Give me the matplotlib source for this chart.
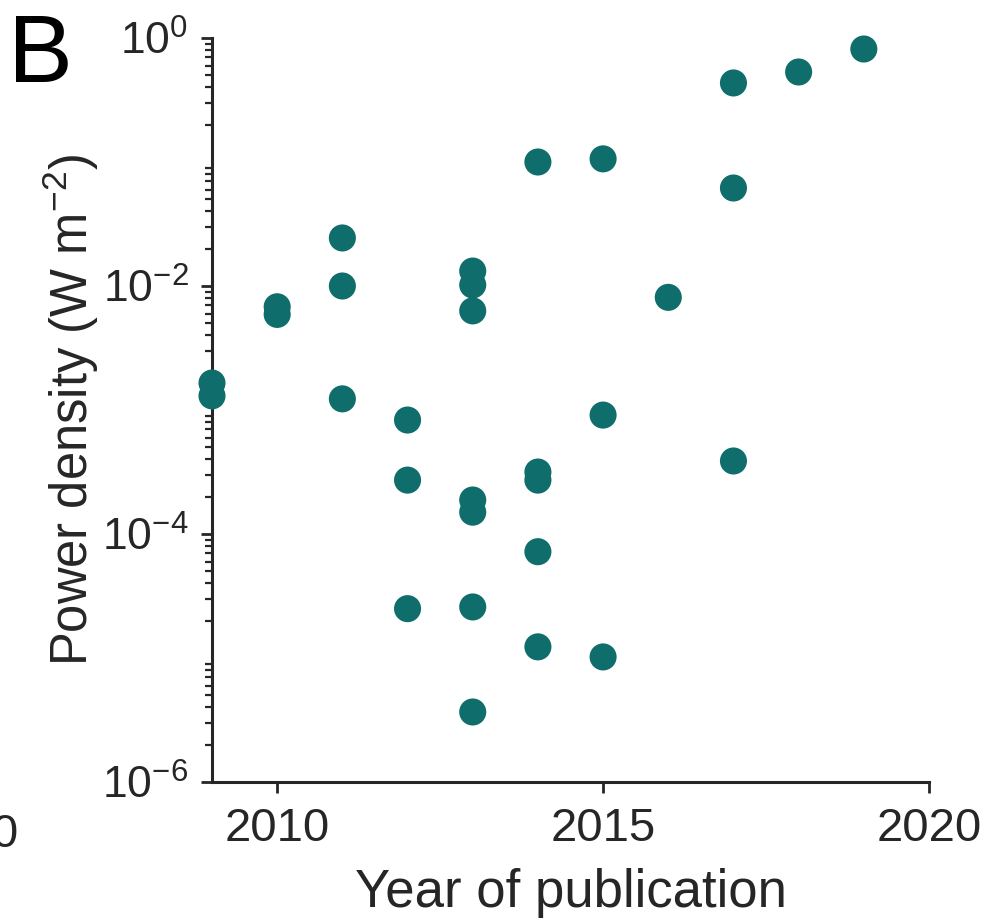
import matplotlib
matplotlib.use('Agg')
import matplotlib.pyplot as plt
from matplotlib.ticker import LogLocator, NullFormatter

plt.rcParams['font.family'] = ['Liberation Sans', 'DejaVu Sans']
plt.rcParams['mathtext.fontset'] = 'custom'
plt.rcParams['mathtext.rm'] = 'Liberation Sans'
plt.rcParams['mathtext.it'] = 'Liberation Sans'

# values (year, power density in W m^-2)
years = [2009, 2009,
         2010, 2010,
         2011, 2011, 2011,
         2012, 2012, 2012,
         2013, 2013, 2013, 2013, 2013, 2013, 2013,
         2014, 2014, 2014, 2014, 2014,
         2015, 2015, 2015,
         2016,
         2017, 2017, 2017,
         2018,
         2019]
power_density = [1.65e-3, 1.30e-3,
                 6.8e-3, 5.9e-3,
                 2.44e-2, 1.0e-2, 1.23e-3,
                 8.3e-4, 2.72e-4, 2.5e-5,
                 1.32e-2, 1.02e-2, 6.3e-3, 1.88e-4, 1.50e-4, 2.58e-5, 3.67e-6,
                 1.0e-1, 3.16e-4, 2.72e-4, 7.2e-5, 1.23e-5,
                 1.06e-1, 9.1e-4, 1.02e-5,
                 8.1e-3,
                 4.34e-1, 6.17e-2, 3.88e-4,
                 5.32e-1,
                 8.15e-1]

x_ticks = [2010, 2015, 2020]
y_ticks = [1e-6, 1e-4, 1e-2, 1e0]
y_tick_labels = [r'$\mathregular{10^{-6}}$', r'$\mathregular{10^{-4}}$',
                 r'$\mathregular{10^{-2}}$', r'$\mathregular{10^{0}}$']

dot_color = '#0f6e6b'
ink = '#262626'

fig = plt.figure(figsize=(9.86, 9.19), dpi=100)
ax = fig.add_axes([212 / 986, 1 - 782 / 919, (929 - 212) / 986, (782 - 38) / 919])

ax.scatter(years, power_density, s=380, color=dot_color, edgecolors='none',
           zorder=3, clip_on=False)

ax.set_yscale('log')
ax.set_xlim(2009, 2020)
ax.set_ylim(1e-6, 1e0)

ax.set_xticks(x_ticks)
ax.set_xticklabels([str(t) for t in x_ticks])
ax.set_yticks(y_ticks)
ax.set_yticklabels(y_tick_labels)
ax.yaxis.set_minor_locator(LogLocator(base=10, subs=range(2, 10), numticks=20))
ax.yaxis.set_minor_formatter(NullFormatter())

for side in ['top', 'right']:
    ax.spines[side].set_visible(False)
for side in ['left', 'bottom']:
    ax.spines[side].set_linewidth(2.2)
    ax.spines[side].set_color(ink)

ax.tick_params(axis='both', which='major', direction='out', length=8, width=2,
               color=ink, labelcolor=ink)
ax.tick_params(axis='x', which='major', labelsize=34, pad=10)
ax.tick_params(axis='y', which='major', labelsize=32, pad=9)
ax.tick_params(axis='y', which='minor', direction='out', length=5, width=1.6,
               color=ink)

# cut-off tick label of the neighbouring panel at the left edge
fig.text(19 / 986, 1 - 847 / 919, '2020', fontsize=34, color=ink,
         ha='right', va='baseline')

ax.set_xlabel('Year of publication', fontsize=38, color=ink, labelpad=12)
ax.set_ylabel(r'Power density (W m$^{\mathregular{-2}}$)', fontsize=36.5,
              color=ink, labelpad=1)

fig.text(8 / 986, 1 - 82 / 919, 'B', fontsize=70, color='black',
         ha='left', va='baseline')

fig.savefig('out.png', dpi=100)
